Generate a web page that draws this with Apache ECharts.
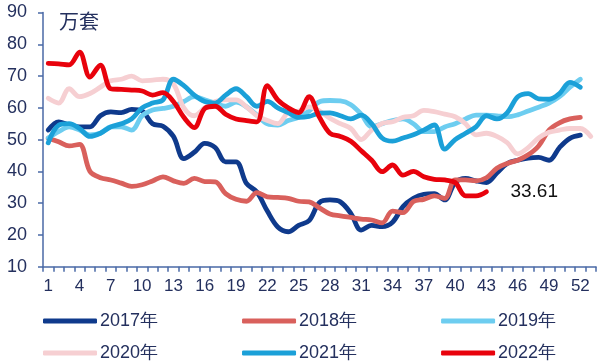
<!DOCTYPE html>
<html><head><meta charset="utf-8">
<script src="https://cdn.jsdelivr.net/npm/echarts@6/dist/echarts.min.js"></script>
<style>html,body{margin:0;padding:0;background:#fff}#c{width:599px;height:363px}</style>
</head><body><div id="c"></div>
<script>
var weeks = [];
for (var i = 1; i <= 53; i++) weeks.push(String(i));
var yTicks = [10, 20, 30, 40, 50, 60, 70, 80, 90];
var unitLabel = '万套';
var names = ['2017年', '2018年', '2019年', '2020年', '2021年', '2022年'];

var s2017 = [53,55.6,54.6,54,54,57.5,58.7,58.5,59.5,59,55,54.2,51,44,46,48.8,47.5,43,43,36.2,33.5,27.5,22.5,21,23,24.5,30.2,31,30.4,26.8,21.5,23,22.6,24,28.9,31.5,32.8,33,31,36.5,37.8,37,36.5,39.5,42.5,43.5,44.2,44.4,43.5,47.5,50.4,51.4];
var s2018 = [50.4,49.3,48,48.5,40,38,37.3,36.3,35.3,35.8,37,38.3,37,36.2,37.8,36.8,36.7,33,31.2,30.6,33.3,32,31.8,31.5,30.6,30.4,28.5,26.6,26,25.5,25,24.7,23.8,27.5,27,30.5,31.2,32.3,31.5,37.3,37.3,37,38,41,42.5,43.5,45.2,48,53,55.3,56.5,57];
var s2019 = [50.5,52.5,54,53,51.5,52,54,54,53,57.5,59.3,59.8,60.5,62,63.5,62.5,61.5,60.5,61.8,60.3,57.7,55,54.6,56,57,59,61.9,62.3,62.2,61,58,54,55,56,56.5,55,52.5,52.5,54,55,56.5,57.7,57.7,57.5,57.2,57.8,59,60.2,61.5,63.5,66.5,69];
var s2020 = [63,61.5,66,63.5,64.5,66.5,68.5,69,70,68.5,68.7,69,67.5,60,57.5,60,62,62.5,62.5,60.3,57.5,56,55,58.5,59,60.3,59,56.7,55,53.5,50,53,55.1,55.6,57,57.5,59.2,58.8,58,57.2,55,51.5,52,51,49,45.5,47.5,50.5,52.3,53,53.5,53.5,51];
var s2021 = [49,54.5,55,53.5,51,52,54,55,56.5,60,61.5,62.5,69,67,64,62,61.5,64,66,63.5,60.5,62,60,58.5,57,57.3,58.3,58.4,57.5,56.5,57.7,55,50.5,49.5,50.5,51.5,53,54.6,47,50,52,54,57.5,56.5,58.5,63.5,64.5,62.8,62.7,64.5,68,66.5];
var s2022 = [74,73.8,73.5,77.5,69.7,73.4,66,65.8,65.6,65.3,64,64.8,62,57,53.8,59.8,60.5,58,56.5,56,55.6,67,62.5,60,58.5,63.5,57,52,51,49.5,46.5,43.5,39.9,42,38.8,40,38.3,37.5,37.3,36.5,32.3,32.3,33.61];

var colors = ['#0f3a8c', '#d9605c', '#6dcdf0', '#f6cfd2', '#1ba0d8', '#e8020c'];
var seriesData = [s2017, s2018, s2019, s2020, s2021, s2022];
var FONT = 'Liberation Sans, Arial, sans-serif';
var TXT = '#24305e';

var series = names.map(function (n, i) {
  var s = {
    name: n, type: 'line', data: seriesData[i], smooth: 0.35,
    showSymbol: false, symbol: 'none',
    lineStyle: { width: 4.8, color: colors[i], cap: 'round', join: 'round' },
    itemStyle: { color: colors[i] },
    z: 2 + i
  };
  if (i === 5) {
    s.endLabel = {
      show: true, distance: 24, color: '#111', fontSize: 19, fontFamily: FONT,
      formatter: function (p) { return String(p.value); }
    };
  }
  return s;
});

function legend(data, top) {
  return {
    data: data, top: top, left: 43, orient: 'horizontal', padding: 0,
    itemWidth: 54, itemHeight: 5, itemGap: 84, icon: 'roundRect',
    textStyle: { fontSize: 18, color: TXT, fontFamily: FONT, padding: [0, 0, 0, -2] }
  };
}

var chart = echarts.init(document.getElementById('c'), null, { renderer: 'canvas' });
chart.setOption({
  animation: false,
  backgroundColor: '#fff',
  title: { text: unitLabel, left: 54, top: 6, textStyle: { fontSize: 20, fontWeight: 'normal', color: TXT, fontFamily: 'Noto Sans CJK SC' } },
  legend: [legend(names.slice(0, 3), 312), legend(names.slice(3), 344)],
  grid: { left: 43, right: 3, top: 12.5, bottom: 96.3 },
  xAxis: {
    type: 'category', data: weeks, boundaryGap: true,
    axisLine: { lineStyle: { color: '#4a69a6', width: 1.5 } },
    axisTick: { show: true, interval: 0, length: 5, lineStyle: { color: '#4a69a6', width: 1.5 } },
    axisLabel: { interval: 2, fontSize: 17, color: TXT, fontFamily: FONT, margin: 11 }
  },
  yAxis: {
    type: 'value', min: yTicks[0], max: yTicks[yTicks.length - 1], interval: 10,
    splitLine: { show: false },
    axisLine: { show: true, lineStyle: { color: '#4a69a6', width: 1.5 } },
    axisTick: { show: true, length: 5, lineStyle: { color: '#4a69a6', width: 1.5 } },
    axisLabel: { fontSize: 18, color: TXT, fontFamily: FONT, margin: 16 }
  },
  series: series
});
</script></body></html>
